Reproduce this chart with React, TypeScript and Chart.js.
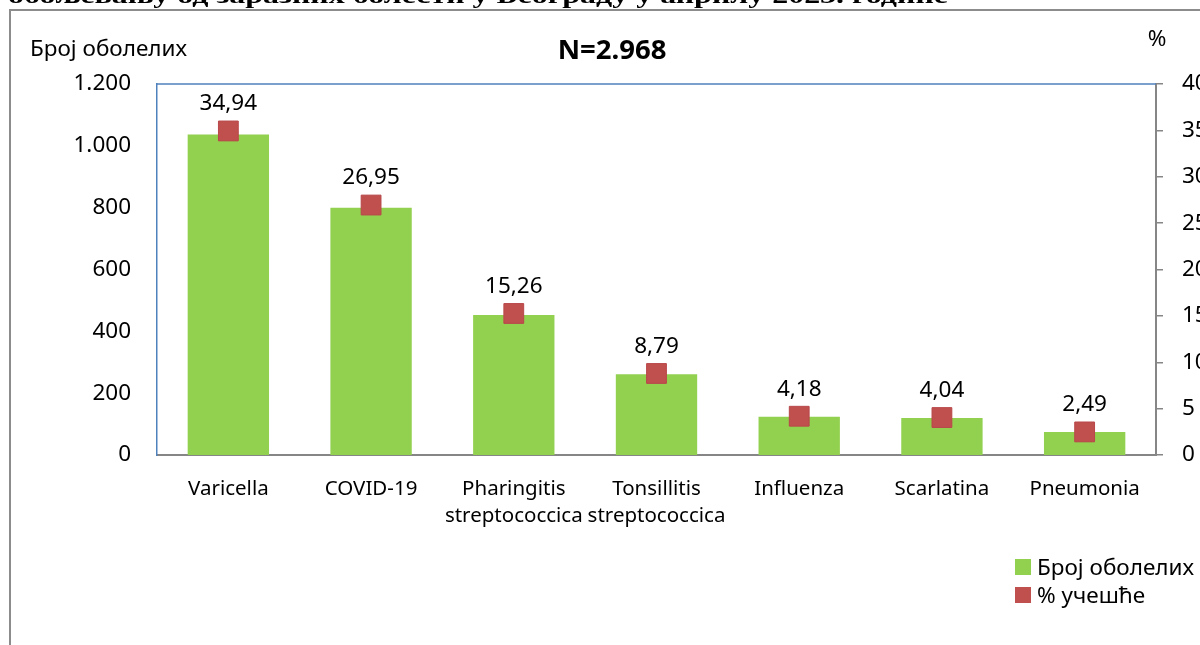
import React, { useEffect, useRef } from "react";
import { Chart, registerables } from "chart.js";

Chart.register(...registerables);

const categories: (string | string[])[] = [
  "Varicella",
  "COVID-19",
  ["Pharingitis", "streptococcica"],
  ["Tonsillitis", "streptococcica"],
  "Influenza",
  "Scarlatina",
  "Pneumonia",
];
const cases = [1037, 800, 453, 261, 124, 120, 74];
const percents = [34.94, 26.95, 15.26, 8.79, 4.18, 4.04, 2.49];
const leftTicks = [0, 200, 400, 600, 800, 1000, 1200];
const rightTicks = [0, 5, 10, 15, 20, 25, 30, 35, 40];
const seriesNames = ["Број оболелих", "% учешће"];
const totalLabel = "N=2.968";
const leftAxisTitle = "Број оболелих";
const rightAxisTitle = "%";
const pageTitle = "обољевању од заразних болести у Београду у априлу 2023. године";

const FONT = "'Noto Sans', sans-serif";
const GREEN = "#92d050";
const RED = "#c0504d";
const BLUE = "#4f81bd";
const GRAY = "#868686";

const fmt = (v: number) => v.toFixed(2).replace(".", ",");
const fmtThousands = (v: number) => String(v).replace(/\B(?=(\d{3})+(?!\d))/g, ".");

const decorPlugin = {
  id: "decor",
  beforeDraw(chart: any) {
    const ctx = chart.ctx;
    ctx.save();
    ctx.fillStyle = "#ffffff";
    ctx.fillRect(0, 0, chart.width, chart.height);
    // outer frame
    ctx.strokeStyle = "#8c8c8c";
    ctx.lineWidth = 2;
    ctx.beginPath();
    ctx.moveTo(10, chart.height);
    ctx.lineTo(10, 10);
    ctx.lineTo(chart.width, 10);
    ctx.stroke();
    // clipped page title
    ctx.fillStyle = "#000";
    ctx.font = "bold 23px 'Liberation Serif', serif";
    ctx.textBaseline = "alphabetic";
    ctx.textAlign = "left";
    const w = ctx.measureText(pageTitle).width;
    ctx.save();
    ctx.beginPath();
    ctx.rect(0, 0, chart.width, 9);
    ctx.clip();
    ctx.translate(8, 3);
    ctx.scale(940 / w, 1);
    ctx.fillText(pageTitle, 0, 0);
    ctx.restore();
    ctx.restore();
  },
  afterDraw(chart: any) {
    const ctx = chart.ctx;
    const area = chart.chartArea;
    ctx.save();
    // top border of plot area
    ctx.strokeStyle = BLUE;
    ctx.lineWidth = 1.5;
    ctx.beginPath();
    ctx.moveTo(area.left, area.top);
    ctx.lineTo(area.right, area.top);
    ctx.stroke();
    ctx.fillStyle = "#000";
    ctx.textBaseline = "middle";
    // axis titles
    ctx.font = `22.5px ${FONT}`;
    ctx.textAlign = "left";
    ctx.fillText(leftAxisTitle, 30, 50);
    ctx.textAlign = "center";
    ctx.fillText(rightAxisTitle, 1157, 40);
    ctx.font = `bold 27.5px ${FONT}`;
    ctx.fillText(totalLabel, 612, 51);
    // data labels
    ctx.font = `22.5px ${FONT}`;
    const meta = chart.getDatasetMeta(0);
    meta.data.forEach((pt: any, i: number) => {
      ctx.fillText(fmt(percents[i]), pt.x, pt.y - 27);
    });
    // legend
    ctx.textAlign = "left";
    ctx.font = `22.5px ${FONT}`;
    const items = [
      { color: GREEN, text: seriesNames[0], y: 567 },
      { color: RED, text: seriesNames[1], y: 595 },
    ];
    items.forEach((it) => {
      ctx.fillStyle = it.color;
      ctx.fillRect(1015, it.y - 8, 16, 16);
      ctx.fillStyle = "#000";
      ctx.fillText(it.text, 1037, it.y + 2);
    });
    ctx.restore();
  },
};

export default function App() {
  const ref = useRef<HTMLCanvasElement | null>(null);
  useEffect(() => {
    if (!ref.current) return;
    const chart = new Chart(ref.current, {
      data: {
        labels: categories,
        datasets: [
          {
            type: "line",
            label: seriesNames[1],
            data: percents,
            yAxisID: "y1",
            showLine: false,
            pointStyle: "rect",
            pointRadius: 14,
            pointHoverRadius: 14,
            backgroundColor: RED,
            borderColor: "#b8474a",
            borderWidth: 1,
            order: 0,
          },
          {
            type: "bar",
            label: seriesNames[0],
            data: cases,
            yAxisID: "y",
            backgroundColor: GREEN,
            borderWidth: 0,
            barPercentage: 0.57,
            categoryPercentage: 1,
            order: 1,
          },
        ],
      } as any,
      options: {
        responsive: false,
        animation: false,
        layout: { padding: { top: 84, left: 0, right: 0, bottom: 0 } },
        plugins: {
          legend: { display: false },
          tooltip: { enabled: false },
          title: { display: false },
        },
        scales: {
          x: {
            type: "category",
            grid: { display: false, drawTicks: false },
            border: { display: true, color: GRAY, width: 2 },
            ticks: {
              color: "#000",
              font: { family: FONT, size: 20.5, lineHeight: 1.32 },
              padding: 21,
              maxRotation: 0,
              autoSkip: false,
            },
            afterFit: (s: any) => {
              s.height = 190;
            },
          },
          y: {
            position: "left",
            min: 0,
            max: 1200,
            afterBuildTicks: (s: any) => {
              s.ticks = leftTicks.map((v) => ({ value: v }));
            },
            grid: { display: false, drawTicks: false },
            border: { display: true, color: BLUE, width: 1.5 },
            ticks: {
              color: "#000",
              font: { family: FONT, size: 22.5 },
              padding: 26,
              callback: (v: any) => fmtThousands(Number(v)),
            },
            afterFit: (s: any) => {
              s.width = 157;
            },
          },
          y1: {
            position: "right",
            min: 0,
            max: 40,
            afterBuildTicks: (s: any) => {
              s.ticks = rightTicks.map((v) => ({ value: v }));
            },
            grid: {
              display: true,
              drawOnChartArea: false,
              drawTicks: true,
              tickLength: 7,
              color: GRAY,
              lineWidth: 1.5,
            },
            border: { display: true, color: GRAY, width: 2 },
            ticks: {
              color: "#000",
              font: { family: FONT, size: 22.5 },
              padding: 19,
            },
            afterFit: (s: any) => {
              s.width = 44;
            },
          },
        },
      } as any,
      plugins: [decorPlugin],
    });
    return () => chart.destroy();
  }, []);
  return (
    <div style={{ position: "absolute", left: 0, top: 0, width: 1200, height: 645 }}>
      <canvas ref={ref} width={1200} height={645} style={{ display: "block" }} />
    </div>
  );
}
